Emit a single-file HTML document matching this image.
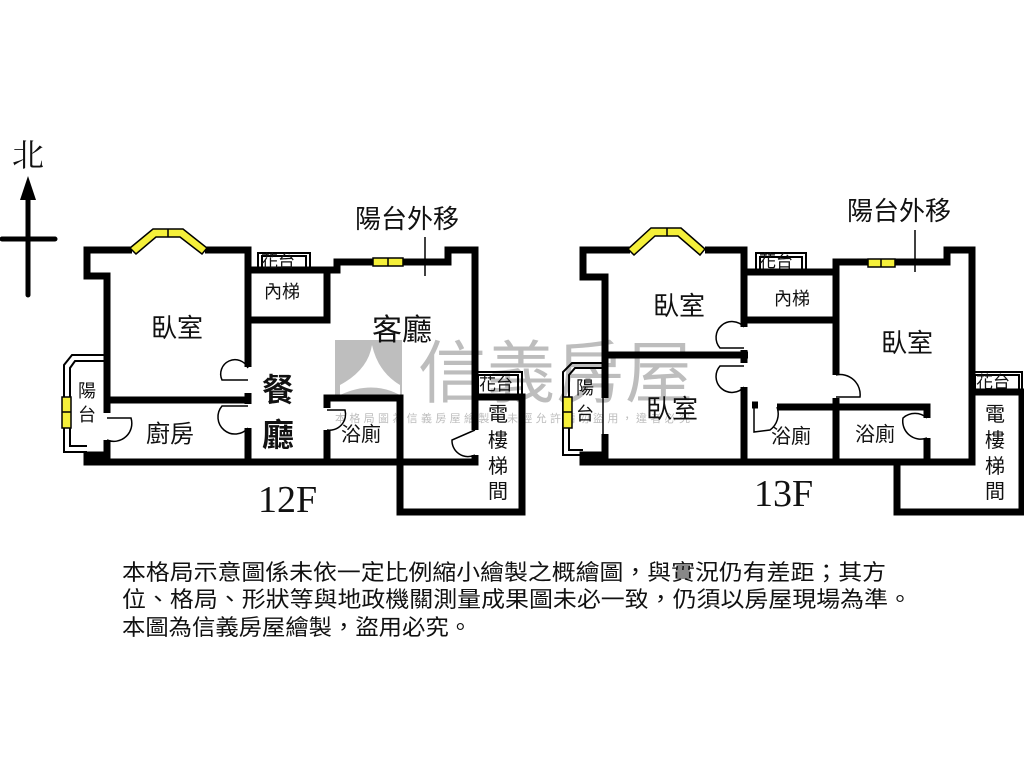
<!DOCTYPE html>
<html><head><meta charset="utf-8"><style>
html,body{margin:0;padding:0;background:#fff;}
svg{display:block}
text{font-family:"Liberation Sans","Noto Sans CJK TC",sans-serif;fill:#111;}
</style></head><body>
<svg width="1024" height="768" viewBox="0 0 1024 768" xmlns="http://www.w3.org/2000/svg">
<g opacity="0.55">
<rect x="335" y="340" width="67" height="57" fill="#8a8a8a"/>
<path d="M340 385 Q368 370 372 345 Q378 372 400 385 L400 395 Q372 380 340 395Z" fill="#fff"/>
<text x="418" y="397" font-size="68" style="fill:#888" textLength="275">信義房屋</text>
<text x="335" y="422" font-size="11" style="fill:#888" textLength="355">本格局圖為信義房屋繪製，未經允許請勿盜用，違者必究</text>
</g>
<text x="12" y="166" font-size="32" style="font-family:'Liberation Serif','Noto Serif CJK SC',serif">北</text>
<line x1="28" y1="195" x2="28" y2="295" stroke="#000" stroke-width="5" stroke-linecap="round"/>
<polygon points="28,176 20,200 36,200" fill="#000"/>
<line x1="2" y1="239" x2="55" y2="239" stroke="#000" stroke-width="5" stroke-linecap="round"/>

<g fill="none" stroke="#000" stroke-width="2">
<rect x="258" y="253" width="52" height="17"/>
<rect x="262" y="256" width="44" height="14"/>
<path d="M107 355 L72 355 L64 365 L64 452 L87 452"/>
<path d="M107 361 L75 361 L70 368 L70 446 L87 446"/>
<rect x="475" y="372" width="47" height="25"/>
<rect x="478" y="375" width="40" height="22"/>
<line x1="425" y1="237" x2="425" y2="276" stroke-width="1.5"/>
<rect x="756" y="253" width="50" height="19"/>
<rect x="760" y="257" width="42" height="15"/>
<path d="M605 363 L572 363 L563 372 L563 455 L583 455"/>
<path d="M605 368 L575 368 L569 375 L569 450 L583 450"/>
<rect x="972" y="372" width="50" height="20"/>
<rect x="975" y="375" width="44" height="17"/>
<line x1="915" y1="230" x2="915" y2="272" stroke-width="1.5"/>
<line x1="603" y1="398" x2="603" y2="434" stroke-width="1.5"/>
</g>
<g fill="none" stroke="#000" stroke-width="1.5">
<path d="M248 368 A14 14 0 0 0 222 380 L248 380"/>
<path d="M248 406 L222 406 A14 14 0 0 0 248 428"/>
<path d="M107 418 L131 418 A18 18 0 0 1 107 440"/>
<path d="M327 410 L345 410 A16 16 0 0 1 327 430"/>
<path d="M475 430 L452 440 A16 16 0 0 0 475 455"/>
<path d="M744 327 A13 13 0 0 0 720 348 L744 348"/>
<path d="M744 366 L720 366 A14 14 0 0 0 744 387"/>
<path d="M836 375 A20 20 0 0 1 860 397 L836 397"/>
<path d="M754 407 L754 432 L770 430 A20 20 0 0 0 777 407"/>
<path d="M927 418 A18 18 0 0 0 903 418 A18 18 0 0 0 927 438"/>
</g>
<g fill="none" stroke="#000" stroke-width="7" stroke-linejoin="miter">
<path d="M132 250 L87 250 L87 276 L107 276 L107 413"/>
<path d="M107 440 L107 455 L87 455 L87 462 L475 462 L475 455"/>
<path d="M205 250 L248 250 L248 367"/>
<path d="M248 393 L248 404"/>
<path d="M248 428 L248 462"/>
<path d="M107 400 L248 400"/>
<path d="M248 270 L337 270 L337 262 L448 262 L448 250 L475 250 L475 430"/>
<path d="M248 320 L327 320 L327 270"/>
<path d="M327 408 L327 398 L400 398 L400 512 L522 512 L522 397 L475 397"/>
<path d="M327 430 L327 462"/>
<path d="M630 250 L583 250 L583 277 L605 277 L605 398"/>
<path d="M605 434 L605 455 L583 455 L583 462 L972 462 L972 250 L947 250 L947 262 L836 262 L836 375"/>
<path d="M836 398 L836 462"/>
<path d="M705 250 L744 250 L744 327"/>
<path d="M744 350 L744 363"/>
<path d="M744 387 L744 462"/>
<path d="M605 355 L748 355"/>
<path d="M744 272 L836 272"/>
<path d="M744 320 L836 320"/>
<path d="M777 407 L927 407 L927 418"/>
<path d="M927 438 L927 462"/>
<path d="M752 405 L758 405" />
<path d="M897 462 L897 512 L1022 512 L1022 392 L972 392"/>
</g>
<g fill="#f5f03a" stroke="#000" stroke-width="1.5">
<polygon points="130,248 153,229 183,229 207,248 202,254 180,237 156,237 136,254"/>
<line x1="168" y1="229" x2="168" y2="237"/>
<rect x="373" y="258" width="30" height="8"/><line x1="388" y1="258" x2="388" y2="266"/>
<rect x="62" y="397" width="9" height="31"/><line x1="62" y1="412" x2="71" y2="412"/>
<polygon points="628,249 651,228 681,228 705,249 700,255 678,236 655,236 634,255"/>
<line x1="667" y1="228" x2="667" y2="236"/>
<rect x="868" y="259" width="27" height="8"/><line x1="881" y1="259" x2="881" y2="267"/>
<rect x="563" y="397" width="9" height="31"/><line x1="563" y1="412" x2="572" y2="412"/>
</g>
<g>
<text x="355" y="228" font-size="26">陽台外移</text>
<text x="847" y="220" font-size="26">陽台外移</text>
<text x="151" y="337" font-size="26">臥室</text>
<text x="372" y="340" font-size="30">客廳</text>
<text x="264" y="298" font-size="18">內梯</text>
<text x="262" y="401" font-size="32" font-weight="bold">餐</text>
<text x="262" y="446" font-size="32" font-weight="bold">廳</text>
<text x="146" y="442" font-size="24">廚房</text>
<text x="341" y="441" font-size="20">浴廁</text>
<text x="78" y="397" font-size="18">陽</text>
<text x="78" y="421" font-size="18">台</text>
<text x="479" y="390" font-size="17">花台</text>
<text x="261" y="267" font-size="17">花台</text>
<g font-size="20"><text x="488" y="421">電</text><text x="488" y="447">樓</text><text x="488" y="473">梯</text><text x="488" y="498">間</text></g>
<text x="258" y="512" font-size="38" style="font-family:'Liberation Serif',serif">12F</text>
<text x="653" y="315" font-size="26">臥室</text>
<text x="881" y="352" font-size="26">臥室</text>
<text x="646" y="418" font-size="26">臥室</text>
<text x="774" y="305" font-size="18">內梯</text>
<text x="771" y="443" font-size="20">浴廁</text>
<text x="855" y="441" font-size="20">浴廁</text>
<text x="576" y="394" font-size="18">陽</text>
<text x="576" y="420" font-size="18">台</text>
<text x="759" y="267" font-size="17">花台</text>
<text x="976" y="388" font-size="17">花台</text>
<g font-size="20"><text x="985" y="421">電</text><text x="985" y="447">樓</text><text x="985" y="473">梯</text><text x="985" y="498">間</text></g>
<text x="754" y="506" font-size="38" style="font-family:'Liberation Serif',serif">13F</text>
</g>
<g font-size="22">
<text x="122" y="580" textLength="764" lengthAdjust="spacingAndGlyphs">本格局示意圖係未依一定比例縮小繪製之概繪圖，與實況仍有差距；其方</text>
<text x="122" y="607" textLength="790" lengthAdjust="spacingAndGlyphs">位、格局、形狀等與地政機關測量成果圖未必一致，仍須以房屋現場為準。</text>
<text x="122" y="635" textLength="350" lengthAdjust="spacingAndGlyphs">本圖為信義房屋繪製，盜用必究。</text>
</g>
</svg>
</body></html>
